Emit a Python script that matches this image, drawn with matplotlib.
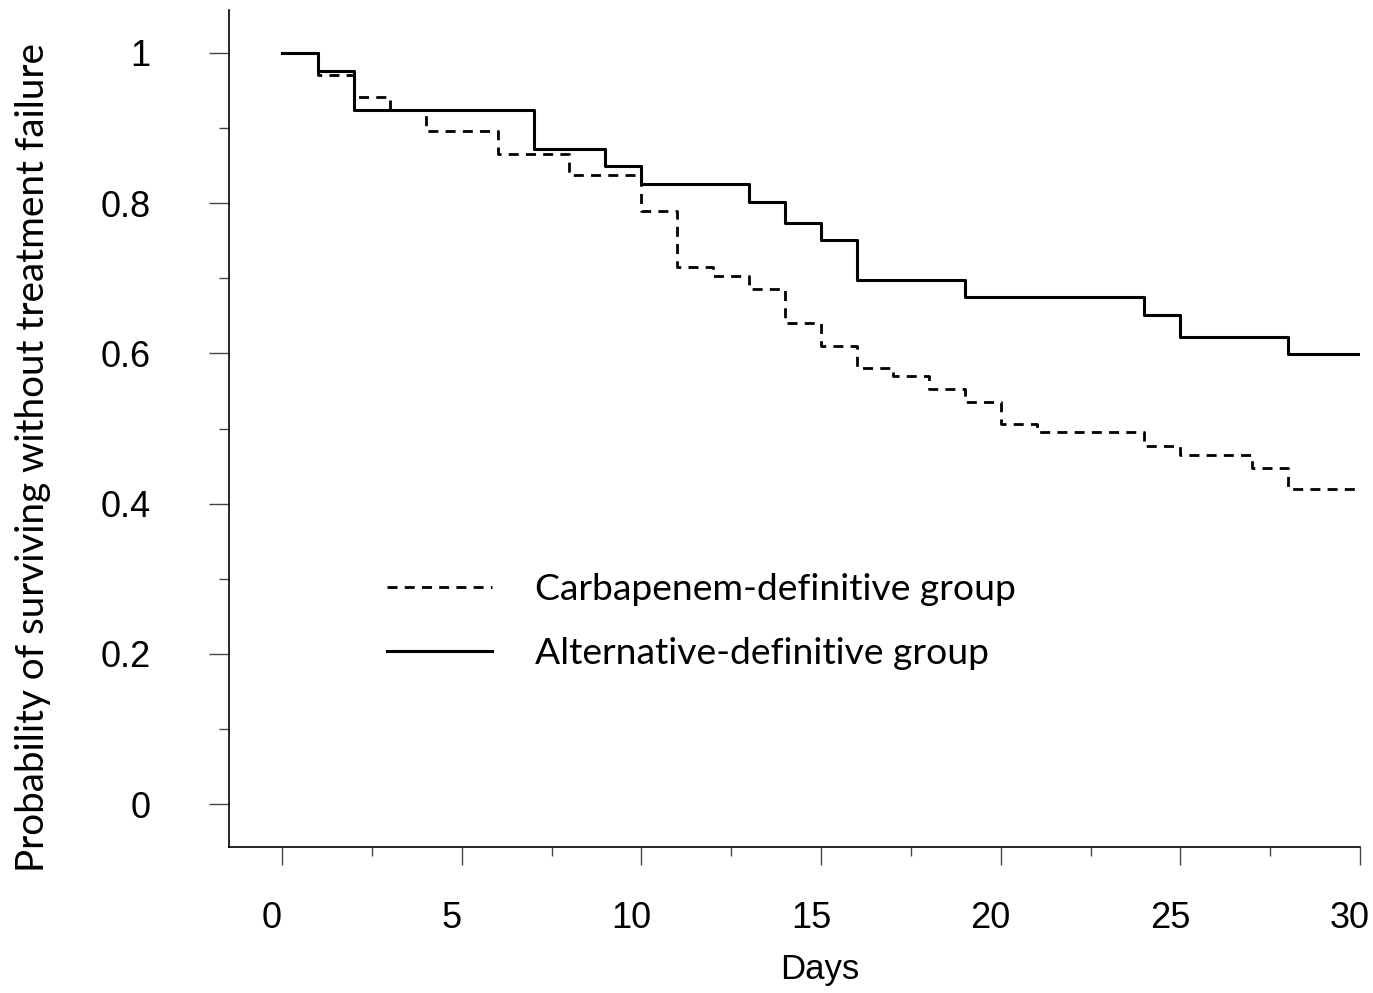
import numpy as np
import matplotlib as mpl
mpl.use("Agg")
import matplotlib.pyplot as plt
import matplotlib.transforms as mtransforms
from matplotlib.ticker import MultipleLocator

## Data
days_carba = [0, 1, 2, 3, 4, 6, 8, 10, 11, 12, 13, 14, 15, 16, 17, 18, 19, 20, 21, 24, 25, 27, 28, 30]
surv_carba = [1.0, 0.971, 0.941, 0.924, 0.896, 0.866, 0.8375, 0.79, 0.715, 0.7035, 0.686, 0.64, 0.61,
              0.581, 0.57, 0.5526, 0.535, 0.506, 0.495, 0.477, 0.465, 0.448, 0.419, 0.419]

days_alt = [0, 1, 2, 7, 9, 10, 13, 14, 15, 16, 19, 24, 25, 28, 30]
surv_alt = [1.0, 0.976, 0.924, 0.872, 0.85, 0.826, 0.802, 0.773, 0.751, 0.697, 0.675, 0.651, 0.622, 0.599, 0.599]

labels = ["Carbapenem-definitive group", "Alternative-definitive group"]
xticks = [0, 5, 10, 15, 20, 25, 30]
yticks = [0, 0.2, 0.4, 0.6, 0.8, 1]
yticklabels = ["0", "0.2", "0.4", "0.6", "0.8", "1"]

W, H = 1373, 993
fig = plt.figure(figsize=(W / 100, H / 100), dpi=100)
ax = fig.add_axes([229 / W, 1 - 847 / H, (1360 - 229) / W, (847 - 10) / H])

## Kaplan-Meier curves
ax.step(days_carba, surv_carba, where="post", color="black", lw=2.0,
        dashes=(3.6, 2.6), label=labels[0])
ax.step(days_alt, surv_alt, where="post", color="black", lw=2.2, label=labels[1])

ax.set_xlim(-1.475, 30)
ax.set_ylim(-0.057, 1.057)

for s in ["top", "right"]:
    ax.spines[s].set_visible(False)
for s in ["left", "bottom"]:
    ax.spines[s].set_linewidth(1.2)

## Ticks
ax.set_xticks(xticks)
ax.set_yticks(yticks)
ax.set_yticklabels(yticklabels)
ax.xaxis.set_minor_locator(MultipleLocator(2.5))
ax.yaxis.set_minor_locator(MultipleLocator(0.1))
ax.tick_params(axis="x", which="major", length=13, width=1.0, color="#444444", pad=26,
               labelsize=26, labelfontfamily="Liberation Sans")
ax.tick_params(axis="y", which="major", length=14.5, width=1.0, color="#444444", pad=42,
               labelsize=26, labelfontfamily="Liberation Sans")
ax.tick_params(axis="x", which="minor", length=6.5, width=1.0, color="#444444")
ax.tick_params(axis="y", which="minor", length=7.2, width=1.0, color="#444444")

offset = mtransforms.ScaledTranslation(-10 / 100, 0, fig.dpi_scale_trans)
for lab in ax.get_xticklabels():
    lab.set_transform(lab.get_transform() + offset)

## Axis titles
fig.text(820 / W, 1 - 970 / H, "Days", ha="center", va="center",
         fontsize=25, family="Liberation Sans")
fig.text(33 / W, 1 - 457 / H, "Probability of surviving without treatment failure",
         ha="center", va="center", rotation=90, fontsize=27.8, family="Lato")

## Legend
leg = ax.legend(loc="upper left", bbox_to_anchor=(387 / W, 1 - 573 / H),
                bbox_transform=fig.transFigure, frameon=False,
                prop={"family": "Lato", "size": 26.8}, handlelength=2.82,
                handletextpad=1.16, labelspacing=0.83, borderpad=0, borderaxespad=0)

fig.savefig("out.png", dpi=100)
